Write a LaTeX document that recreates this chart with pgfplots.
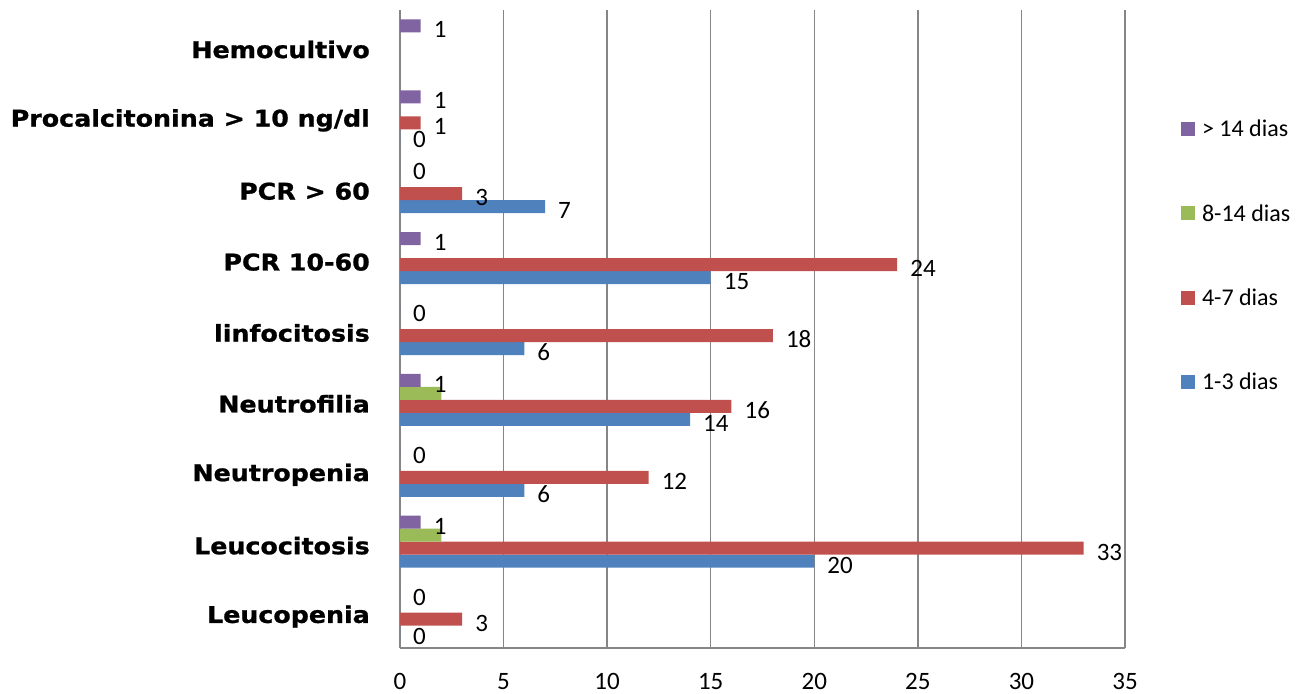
\documentclass[border=0pt]{standalone}
\usepackage{pgfplots}
\pgfplotsset{compat=1.18}
\usepackage{fontspec}
\setmainfont{Carlito}
\newfontfamily\catfont{DejaVu Sans}[FakeStretch=1.1, FakeBold=1]
\definecolor{cblue}{HTML}{4F81BD}
\definecolor{cred}{HTML}{C0504D}
\definecolor{cgreen}{HTML}{9BBB59}
\definecolor{cpurple}{HTML}{8064A2}
\definecolor{gridgray}{HTML}{868686}
\begin{document}
\begin{tikzpicture}
\useasboundingbox (0,0) rectangle (1304bp,694bp);
\begin{axis}[
  at={(400bp,46bp)}, anchor=south west,
  scale only axis, width=725bp, height=638bp,
  xbar=0pt, bar width=13bp,
  xmin=0, xmax=35, ymin=-0.5, ymax=8.5,
  xtick={0,5,...,35},
  ytick={0,...,8},
  yticklabels={Leucopenia, Leucocitosis, Neutropenia, Neutrofilia, linfocitosis, PCR 10-60, PCR > 60, Procalcitonina > 10 ng/dl, Hemocultivo},
  axis x line=bottom, axis y line=left,
  axis line style={draw=gridgray, line width=1.5bp, -},
  xmajorgrids, grid style={draw=gridgray, line width=1.5bp},
  major tick length=0pt,
  /pgf/number format/assume math mode=true,
  xticklabel style={font=\fontsize{25bp}{29bp}\selectfont, inner sep=0pt, yshift=-25bp},
  yticklabel style={font=\catfont\bfseries\fontsize{23bp}{27bp}\selectfont, inner sep=0pt, xshift=-30bp, yshift=-4bp, anchor=east},
  point meta=x,
  every node near coord/.append style={font=\fontsize{25bp}{29bp}\selectfont, anchor=west, inner sep=0pt, xshift=13bp, yshift=-4bp, text=black},
  legend style={at={(1.077,0.8276)}, anchor=north west, draw=none, fill=none,
    font=\fontsize{24bp}{28bp}\selectfont, row sep=66bp, inner sep=0pt,
    nodes={inner sep=0pt, anchor=west},
    /tikz/every odd column/.append style={column sep=7bp}},
  reverse legend,
  clip=false,
]
\addplot[fill=cblue, draw=none, nodes near coords,
  legend image code/.code={\fill[cblue] (0bp,-7bp) rectangle (14bp,7bp);}]
  coordinates {(0,0) (20,1) (6,2) (14,3) (6,4) (15,5) (7,6) (0,7)};
\addplot[fill=cred, draw=none, nodes near coords,
  legend image code/.code={\fill[cred] (0bp,-7bp) rectangle (14bp,7bp);}]
  coordinates {(3,0) (33,1) (12,2) (16,3) (18,4) (24,5) (3,6) (1,7)};
\addplot[fill=cgreen, draw=none,
  legend image code/.code={\fill[cgreen] (0bp,-7bp) rectangle (14bp,7bp);}]
  coordinates {(2,1) (2,3)};
\addplot[fill=cpurple, draw=none, nodes near coords,
  legend image code/.code={\fill[cpurple] (0bp,-7bp) rectangle (14bp,7bp);}]
  coordinates {(0,0) (1,1) (0,2) (1,3) (0,4) (1,5) (0,6) (1,7) (1,8)};
\legend{1-3 dias, 4-7 dias, 8-14 dias, > 14 dias}
\end{axis}
\end{tikzpicture}
\end{document}
